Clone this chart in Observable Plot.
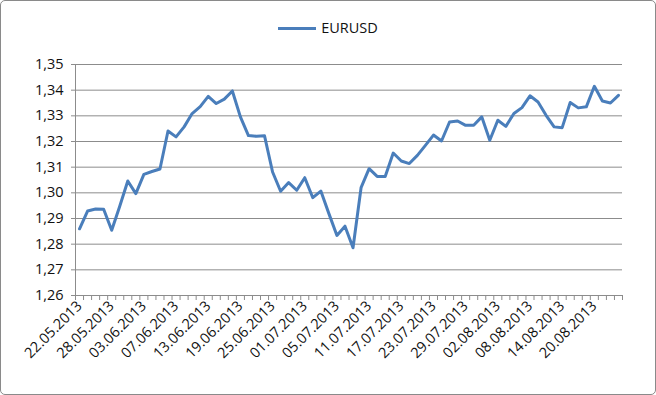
<!DOCTYPE html>
<html>
<head>
<meta charset="utf-8">
<script src="https://cdn.jsdelivr.net/npm/d3@7"></script>
<script src="https://cdn.jsdelivr.net/npm/@observablehq/plot@0.6"></script>
<style>
  html, body { margin: 0; padding: 0; background: #fff; }
  #wrap { position: relative; width: 656px; height: 395px; overflow: hidden; background: #fff; font-family: "Open Sans", sans-serif; }
  #legend { position: absolute; left: 0; top: 0; width: 656px; height: 45px; display: flex; justify-content: center; align-items: center; padding-top: 11px; box-sizing: border-box; }
  #legend .sw { width: 38px; height: 3px; background: #4A7EBB; margin-right: 5px; }
  #legend .tx { font-size: 14.5px; color: #111; line-height: 1; }
  #chart { position: absolute; left: 0; top: 45px; }
  #frame { position: absolute; left: 0; top: 0; width: 656px; height: 395px; box-sizing: border-box; border: 1px solid #8a8a8a; border-radius: 5px; pointer-events: none; }
</style>
</head>
<body>
<div id="wrap">
  <div id="legend"><div class="sw"></div><div class="tx">EURUSD</div></div>
  <div id="chart"></div>
  <div id="frame"></div>
</div>
<script>
const seriesName = "EURUSD";

const dates = [
  "22.05.2013","23.05.2013","24.05.2013","27.05.2013","28.05.2013","29.05.2013","30.05.2013","31.05.2013",
  "03.06.2013","04.06.2013","05.06.2013","06.06.2013","07.06.2013","10.06.2013","11.06.2013","12.06.2013",
  "13.06.2013","14.06.2013","17.06.2013","18.06.2013","19.06.2013","20.06.2013","21.06.2013","24.06.2013",
  "25.06.2013","26.06.2013","27.06.2013","28.06.2013",
  "01.07.2013","02.07.2013","03.07.2013","04.07.2013","05.07.2013","08.07.2013","09.07.2013","10.07.2013",
  "11.07.2013","12.07.2013","15.07.2013","16.07.2013","17.07.2013","18.07.2013","19.07.2013","22.07.2013",
  "23.07.2013","24.07.2013","25.07.2013","26.07.2013","29.07.2013","30.07.2013","31.07.2013",
  "01.08.2013","02.08.2013","05.08.2013","06.08.2013","07.08.2013","08.08.2013","09.08.2013","12.08.2013",
  "13.08.2013","14.08.2013","15.08.2013","16.08.2013","19.08.2013","20.08.2013","21.08.2013","22.08.2013",
  "23.08.2013"
];

const eurusd = [
  1.2860, 1.2929, 1.2937, 1.2936, 1.2854, 1.2948, 1.3046, 1.2997, 1.3072, 1.3083,
  1.3093, 1.3241, 1.3218, 1.3257, 1.3309, 1.3336, 1.3376, 1.3348, 1.3365, 1.3397,
  1.3296, 1.3223, 1.3220, 1.3222, 1.3081, 1.3006, 1.3040, 1.3010, 1.3059, 1.2981,
  1.3007, 1.2919, 1.2834, 1.2870, 1.2786, 1.3020, 1.3094, 1.3064, 1.3064, 1.3155,
  1.3124, 1.3114, 1.3146, 1.3185, 1.3225, 1.3202, 1.3276, 1.3280, 1.3263, 1.3263,
  1.3296, 1.3205, 1.3283, 1.3259, 1.3309, 1.3332, 1.3378, 1.3354, 1.3302, 1.3257,
  1.3254, 1.3352, 1.3331, 1.3335, 1.3415, 1.3358, 1.3350, 1.3380
];

const yTicks = [1.26, 1.27, 1.28, 1.29, 1.30, 1.31, 1.32, 1.33, 1.34, 1.35];

const xTickLabels = [
  "22.05.2013","28.05.2013","03.06.2013","07.06.2013","13.06.2013","19.06.2013",
  "25.06.2013","01.07.2013","05.07.2013","11.07.2013","17.07.2013","23.07.2013",
  "29.07.2013","02.08.2013","08.08.2013","14.08.2013","20.08.2013"
];

const data = eurusd.map((v, i) => ({i, date: dates[i], value: v}));
const labelIdx = xTickLabels.map(d => dates.indexOf(d));
const boundaries = d3.range(0, dates.length + 1).map(k => k - 0.5);
const fmtY = v => d3.format(".2f")(v).replace(".", ",");
const gridColor = "#8c8c8c";

const chart = Plot.plot({
  width: 656,
  height: 350,
  marginLeft: 75,
  marginRight: 34,
  marginTop: 19,
  marginBottom: 100,
  x: {domain: [-0.5, dates.length - 0.5]},
  y: {domain: [1.26, 1.35]},
  style: {fontFamily: "'Open Sans', sans-serif", fontSize: "14.5px", color: "#111", background: "transparent", overflow: "visible"},
  marks: [
    Plot.ruleY(yTicks, {stroke: gridColor, strokeWidth: 1}),
    Plot.ruleX([-0.5], {stroke: gridColor, strokeWidth: 1}),
    Plot.axisY({ticks: yTicks, tickSize: 4, tickPadding: 8, tickFormat: fmtY, stroke: gridColor, fill: "#111", label: null, fontSize: 14.5}),
    Plot.axisX({ticks: boundaries, tickSize: 5, tickFormat: () => "", stroke: gridColor, label: null}),
    Plot.axisX({ticks: labelIdx, tickSize: 0, tickPadding: 8, tickRotate: -45, tickFormat: i => dates[i], fill: "#111", label: null, fontSize: 14.5}),
    Plot.lineY(data, {x: "i", y: "value", stroke: "#4A7EBB", strokeWidth: 3, strokeLinejoin: "round", strokeLinecap: "round"})
  ]
});
document.getElementById("chart").appendChild(chart);
</script>
</body>
</html>
